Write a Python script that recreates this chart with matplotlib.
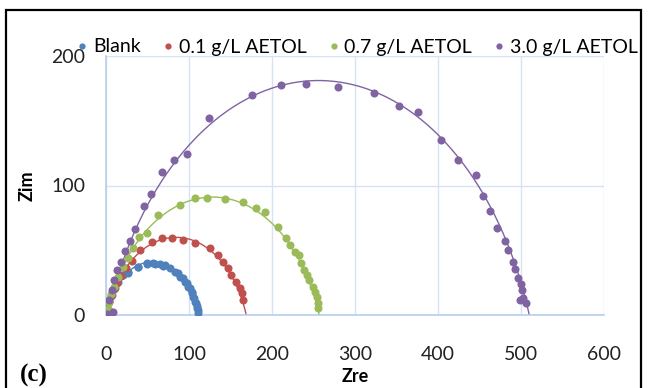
import numpy as np
import matplotlib
matplotlib.use("Agg")
import matplotlib.pyplot as plt
from matplotlib.patches import Rectangle
from matplotlib.lines import Line2D

blank_x = [0, 2.8, 6.8, 10.8, 14.9, 20.9, 26.9, 26.9, 38.9, 38.9, 49, 49, 57, 59, 65, 69,
           71.1, 77.1, 83.1, 87.1, 89.2, 93.1, 95.2, 98, 99.2, 101.2, 103.3, 104,
           105.2, 106.4, 107.2, 108.4, 109.3, 110, 110.5, 111.2]
blank_y = [2.5, 9, 15.4, 20.6, 25.7, 30.9, 33.4, 32.2, 37.3, 37.3, 39.9, 39.4, 40.4, 39.4, 39.1, 37.8,
           38.6, 36, 33.4, 32.2, 29.6, 28.3, 25.7, 24.5, 21.9, 20.6, 18, 16.8,
           14.1, 12.9, 10.3, 9, 7, 5.2, 3.9, 1.3]

red_x = [0.5, 2, 4, 6.5, 9.5, 13, 18, 24, 31, 41, 55, 67, 79, 93, 107, 125, 135,
         141, 147, 151, 157, 161, 163.5, 165.5]
red_y = [1, 5, 10, 15, 20, 25, 30.5, 36, 42, 50, 56.5, 59.2, 59.2, 58, 55.8, 51.5, 46.3,
         41.2, 36, 31, 25.7, 20.6, 16.8, 11.6]

green_x = [0.5, 2, 4, 6.5, 10, 14, 20.9, 26.9, 32.9, 40.2, 49.5, 63, 89.2, 107.2, 122.1,
           143.4, 165.4, 180.7, 191.6, 206.9, 216.9, 221.7, 227.7, 232.9, 234.9,
           238.9, 241.8, 245, 249, 251.8, 253.8, 255.8, 255.8]
green_y = [1, 5, 10, 16, 22, 29, 37.3, 43.8, 51.5, 60.5, 63.6, 77.2, 84.9, 90.1, 90.6,
           89.3, 87.5, 82.4, 79.8, 68.2, 59.2, 54.1, 48.9, 46.3, 39.9,
           34.7, 30.9, 27, 21.9, 18, 14.1, 9, 5.2]

purple_x = [1, 8, 4, 6.8, 9.6, 12.9, 17.7, 22.9, 28.9, 35.3, 45.4, 53.8, 67.2, 81.9, 97.2,
            124.5, 175.9, 210.6, 241, 279.9, 322.9, 353.4, 375.5, 403.2, 423.7, 445.8,
            454.6, 462.7, 471.5, 480.7, 484.7, 490.8, 492.4, 496.8, 500, 500.8, 498.8,
            502.8, 506]
purple_y = [1, 2.5, 11.6, 19.3, 27, 34.7, 41.2, 49.2, 56.8, 66.2, 83.9, 93.1, 110.7, 119.7,
            124.1, 152.4, 170.1, 177.8, 178.2, 175.8, 171.2, 161.6, 157, 135.1, 119.7,
            108.1, 91.9, 80.3, 66.9, 57.1, 50.2, 40.7, 35.5, 28.3, 23.7, 19.3, 11.6,
            12.9, 9]

# fitted equivalent circuit (Rs, Rct, CPE exponent n)
fit_rs = [0, 0, 0, 2]
fit_rct = [111, 169, 257, 508]
fit_n = [0.81, 0.786, 0.785, 0.7885]

labels = ["Blank", "0.1 g/L AETOL", "0.7 g/L AETOL", "3.0 g/L AETOL"]
colors = ["#4F81BD", "#C0504D", "#9BBB59", "#8064A2"]

plt.rcParams['font.family'] = ['Lato', 'DejaVu Sans']

fig = plt.figure(figsize=(6.52, 3.88), dpi=100)
ax = fig.add_axes([106/652, 1 - 315/388, 498/652, 259/388])

xs = [blank_x, red_x, green_x, purple_x]
ys = [blank_y, red_y, green_y, purple_y]
w = np.logspace(-6, 6, 600)
handles = []
for i in range(4):
    z = fit_rs[i] + fit_rct[i] / (1 + (1j * w) ** fit_n[i])
    ax.plot(z.real, -z.imag, color=colors[i], lw=1, zorder=2)
    ax.plot(xs[i], ys[i], 'o', color=colors[i], ms=5.8, mec='none', zorder=3)
    handles.append(Line2D([], [], marker='o', ls='none', color=colors[i], ms=4.5, mec='none'))

ax.set_xlim(0, 600)
ax.set_ylim(0, 200)
ax.set_xticks(range(0, 601, 100))
ax.set_yticks([0, 100, 200])
ax.grid(True, color="#D6E3F5", lw=1)
ax.set_axisbelow(True)
for s in ['top', 'right']:
    ax.spines[s].set_visible(False)
for s in ['bottom', 'left']:
    ax.spines[s].set_color("#B9CDEB")
    ax.spines[s].set_linewidth(1.2)
ax.tick_params(length=0, labelsize=14, colors="#222222")
ax.tick_params(axis='x', pad=22)
ax.tick_params(axis='y', pad=15)
ax.set_xlabel("Zre", fontsize=13, fontweight='bold', labelpad=4)
ax.set_ylabel("Zim", fontsize=13, fontweight='bold', labelpad=11)

fig.legend(handles, labels, loc='center', bbox_to_anchor=(0.548, 1 - 47/388), ncol=4,
           frameon=False, fontsize=14, handlelength=0.6, handletextpad=0.25,
           columnspacing=1.1, borderpad=0)

fig.text(34/652, 1 - 375/388, "(c)", fontsize=18, fontweight='bold',
         family='Liberation Serif', ha='center', va='center')

# page frame
fig.patches.append(Rectangle((6/652, -0.1), (641 - 6)/652, 1.1 - 10/388 + 0.0,
                             transform=fig.transFigure, fill=False, ec='black', lw=1.6))

fig.savefig("out.png", dpi=100)
